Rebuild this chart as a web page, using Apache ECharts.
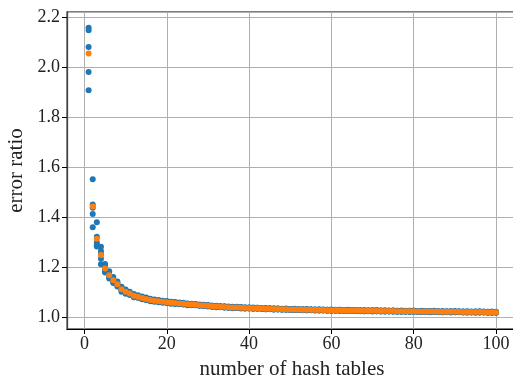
<!DOCTYPE html>
<html>
<head>
<meta charset="utf-8">
<script src="https://cdn.jsdelivr.net/npm/echarts@6/dist/echarts.min.js"></script>
<style>
  html, body { margin: 0; padding: 0; background: #fff; }
  #chart { width: 513px; height: 381px; }
</style>
</head>
<body>
<div id="chart"></div>
<script>
// error ratio per number of hash tables: five blue trial runs and their mean (orange)
var run1 = [2.158, 1.552, 1.379, 1.281, 1.212, 1.183, 1.160, 1.142, 1.121, 1.110,
  1.101, 1.092, 1.087, 1.082, 1.078, 1.073, 1.070, 1.068, 1.065, 1.064,
  1.061, 1.059, 1.058, 1.055, 1.054, 1.053, 1.051, 1.050, 1.049, 1.047,
  1.046, 1.044, 1.044, 1.042, 1.042, 1.040, 1.041, 1.039, 1.039, 1.038,
  1.038, 1.037, 1.036, 1.036, 1.035, 1.035, 1.034, 1.033, 1.034, 1.032,
  1.033, 1.032, 1.031, 1.032, 1.031, 1.030, 1.031, 1.030, 1.029, 1.030,
  1.029, 1.029, 1.028, 1.029, 1.028, 1.028, 1.027, 1.028, 1.027, 1.027,
  1.028, 1.026, 1.027, 1.026, 1.026, 1.025, 1.026, 1.025, 1.025, 1.026,
  1.024, 1.025, 1.024, 1.024, 1.025, 1.023, 1.024, 1.023, 1.023, 1.024,
  1.023, 1.022, 1.023, 1.022, 1.022, 1.023, 1.022, 1.021, 1.022, 1.021];
var run2 = [2.148, 1.450, 1.321, 1.264, 1.205, 1.172, 1.152, 1.135, 1.115, 1.105,
  1.097, 1.087, 1.083, 1.078, 1.074, 1.070, 1.067, 1.064, 1.063, 1.060,
  1.058, 1.060, 1.055, 1.057, 1.052, 1.051, 1.052, 1.048, 1.046, 1.048,
  1.044, 1.045, 1.042, 1.043, 1.040, 1.041, 1.039, 1.040, 1.037, 1.038,
  1.036, 1.037, 1.035, 1.034, 1.035, 1.033, 1.034, 1.032, 1.032, 1.032,
  1.031, 1.031, 1.031, 1.030, 1.030, 1.030, 1.029, 1.029, 1.029, 1.028,
  1.028, 1.029, 1.027, 1.027, 1.028, 1.027, 1.027, 1.026, 1.026, 1.027,
  1.026, 1.026, 1.025, 1.025, 1.026, 1.025, 1.024, 1.024, 1.025, 1.024,
  1.024, 1.023, 1.023, 1.024, 1.023, 1.023, 1.022, 1.022, 1.023, 1.022,
  1.022, 1.022, 1.021, 1.021, 1.022, 1.021, 1.021, 1.021, 1.020, 1.020];
var run3 = [2.081, 1.437, 1.297, 1.251, 1.190, 1.166, 1.146, 1.130, 1.111, 1.100,
  1.093, 1.085, 1.080, 1.076, 1.071, 1.068, 1.064, 1.063, 1.061, 1.058,
  1.056, 1.055, 1.054, 1.052, 1.053, 1.049, 1.048, 1.047, 1.047, 1.044,
  1.043, 1.041, 1.040, 1.039, 1.039, 1.037, 1.038, 1.036, 1.036, 1.035,
  1.035, 1.034, 1.034, 1.033, 1.032, 1.032, 1.031, 1.031, 1.030, 1.029,
  1.030, 1.029, 1.028, 1.029, 1.028, 1.027, 1.028, 1.027, 1.026, 1.027,
  1.026, 1.026, 1.026, 1.025, 1.025, 1.026, 1.024, 1.025, 1.024, 1.024,
  1.025, 1.023, 1.024, 1.023, 1.023, 1.022, 1.023, 1.022, 1.022, 1.023,
  1.021, 1.022, 1.021, 1.021, 1.022, 1.020, 1.021, 1.020, 1.020, 1.021,
  1.020, 1.019, 1.020, 1.019, 1.019, 1.020, 1.019, 1.018, 1.019, 1.018];
var run4 = [1.981, 1.412, 1.286, 1.233, 1.185, 1.160, 1.141, 1.126, 1.107, 1.097,
  1.091, 1.082, 1.078, 1.073, 1.069, 1.066, 1.063, 1.061, 1.059, 1.057,
  1.055, 1.054, 1.051, 1.051, 1.049, 1.050, 1.047, 1.045, 1.044, 1.044,
  1.042, 1.041, 1.040, 1.038, 1.037, 1.037, 1.036, 1.036, 1.034, 1.035,
  1.033, 1.034, 1.033, 1.031, 1.032, 1.030, 1.031, 1.030, 1.030, 1.029,
  1.028, 1.029, 1.028, 1.027, 1.028, 1.027, 1.026, 1.027, 1.026, 1.025,
  1.026, 1.026, 1.025, 1.025, 1.025, 1.024, 1.024, 1.023, 1.024, 1.024,
  1.023, 1.023, 1.022, 1.023, 1.023, 1.022, 1.021, 1.022, 1.022, 1.021,
  1.021, 1.020, 1.021, 1.021, 1.020, 1.020, 1.019, 1.020, 1.020, 1.019,
  1.020, 1.019, 1.018, 1.019, 1.019, 1.018, 1.019, 1.018, 1.017, 1.018];
var run5 = [1.908, 1.359, 1.282, 1.211, 1.178, 1.154, 1.136, 1.122, 1.101, 1.093,
  1.088, 1.079, 1.077, 1.071, 1.068, 1.063, 1.061, 1.059, 1.057, 1.056,
  1.053, 1.052, 1.052, 1.050, 1.047, 1.047, 1.047, 1.045, 1.044, 1.042,
  1.040, 1.039, 1.039, 1.038, 1.037, 1.035, 1.036, 1.034, 1.034, 1.034,
  1.033, 1.033, 1.032, 1.031, 1.031, 1.030, 1.030, 1.029, 1.029, 1.028,
  1.028, 1.028, 1.027, 1.027, 1.027, 1.026, 1.026, 1.026, 1.025, 1.025,
  1.025, 1.024, 1.024, 1.024, 1.024, 1.024, 1.023, 1.023, 1.023, 1.022,
  1.023, 1.022, 1.022, 1.022, 1.021, 1.021, 1.021, 1.021, 1.020, 1.021,
  1.020, 1.020, 1.020, 1.019, 1.020, 1.019, 1.019, 1.019, 1.018, 1.019,
  1.019, 1.018, 1.018, 1.018, 1.017, 1.018, 1.018, 1.017, 1.017, 1.017];
var meanRatio = [2.055, 1.442, 1.313, 1.248, 1.194, 1.167, 1.147, 1.131, 1.111, 1.101,
  1.094, 1.085, 1.081, 1.076, 1.072, 1.068, 1.065, 1.063, 1.061, 1.059,
  1.057, 1.056, 1.054, 1.053, 1.051, 1.050, 1.049, 1.047, 1.046, 1.045,
  1.043, 1.042, 1.041, 1.040, 1.039, 1.038, 1.038, 1.037, 1.036, 1.036,
  1.035, 1.035, 1.034, 1.033, 1.033, 1.032, 1.032, 1.031, 1.031, 1.030,
  1.030, 1.030, 1.029, 1.029, 1.029, 1.028, 1.028, 1.028, 1.027, 1.027,
  1.027, 1.027, 1.026, 1.026, 1.026, 1.026, 1.025, 1.025, 1.025, 1.025,
  1.025, 1.024, 1.024, 1.024, 1.024, 1.023, 1.023, 1.023, 1.023, 1.023,
  1.022, 1.022, 1.022, 1.022, 1.022, 1.021, 1.021, 1.021, 1.021, 1.021,
  1.021, 1.020, 1.020, 1.020, 1.020, 1.020, 1.020, 1.019, 1.019, 1.019];

var runs = [run1, run2, run3, run4, run5];
var font = '"Liberation Serif", "DejaVu Serif", serif';

// x is the number of hash tables: 1, 2, ... 100
var bluePoints = [];
runs.forEach(function (run) {
  run.forEach(function (v, i) { bluePoints.push([i + 1, v]); });
});
var orangePoints = meanRatio.map(function (v, i) { return [i + 1, v]; });

var chart = echarts.init(document.getElementById('chart'), null, { renderer: 'canvas' });

var option = {
  animation: false,
  backgroundColor: '#fff',
  grid: {
    left: 67, right: -4, top: 12, bottom: 52,
    outerBoundsMode: 'none',
    show: true, borderColor: '#555', borderWidth: 1.3, backgroundColor: 'transparent'
  },
  xAxis: {
    type: 'value',
    min: -4.25, max: 105.1,
    splitNumber: 5,
    name: 'number of hash tables',
    nameLocation: 'middle',
    nameGap: 30,
    nameTextStyle: { fontFamily: font, fontSize: 21, color: '#222' },
    axisLine: { show: true, onZero: false, lineStyle: { color: '#000', width: 1.2 } },
    axisTick: { show: true, length: 5, lineStyle: { color: '#000' } },
    axisLabel: { fontFamily: font, fontSize: 18, color: '#222', margin: 6, showMinLabel: false, showMaxLabel: false },
    splitLine: { show: true, lineStyle: { color: '#b0b0b0', width: 1 } }
  },
  yAxis: {
    type: 'value',
    min: 0.952, max: 2.2212,
    splitNumber: 6,
    name: 'error ratio',
    nameLocation: 'middle',
    nameGap: 39,
    nameTextStyle: { fontFamily: font, fontSize: 21, color: '#222' },
    axisLine: { show: true, onZero: false, lineStyle: { color: '#444', width: 1.3 } },
    axisTick: { show: true, length: 5, lineStyle: { color: '#000' } },
    axisLabel: {
      fontFamily: font, fontSize: 18, color: '#222', margin: 7,
      showMinLabel: false, showMaxLabel: false,
      formatter: function (v) { return v.toFixed(1); }
    },
    splitLine: { show: true, lineStyle: { color: '#b0b0b0', width: 1 } }
  },
  series: [
    {
      name: 'runs',
      type: 'scatter',
      data: bluePoints,
      symbolSize: 6,
      itemStyle: { color: '#1f77b4', opacity: 1 }
    },
    {
      name: 'mean',
      type: 'scatter',
      data: orangePoints,
      symbolSize: 6,
      itemStyle: { color: '#ff7f0e', opacity: 1 }
    }
  ]
};

chart.setOption(option);
</script>
</body>
</html>
